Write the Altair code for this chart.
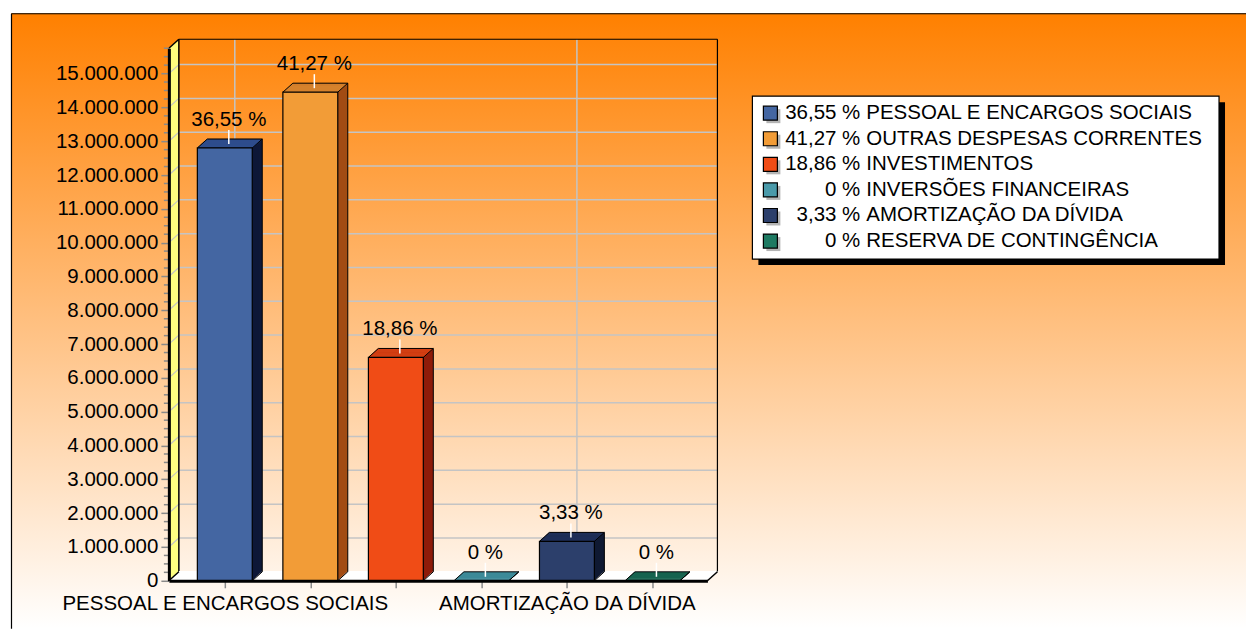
import json
import altair as alt
import pandas as pd

# ---------------- data ----------------
CATEGORIES = [
    "PESSOAL E ENCARGOS SOCIAIS",
    "OUTRAS DESPESAS CORRENTES",
    "INVESTIMENTOS",
    "INVERSÕES FINANCEIRAS",
    "AMORTIZAÇÃO DA DÍVIDA",
    "RESERVA DE CONTINGÊNCIA",
]
VALUES = [12_800_000, 14_450_000, 6_605_000, 0, 1_165_000, 0]
PCT_LABELS = ["36,55 %", "41,27 %", "18,86 %", "0 %", "3,33 %", "0 %"]
FRONT_COLORS = ["#4466A2", "#F29C37", "#F04C16", "#4A9AAA", "#2C3F6B", "#1E7A62"]
TOP_COLORS = ["#2E4D8C", "#D6822C", "#D23E12", "#3C8A99", "#1F2F58", "#17634F"]
SIDE_COLORS = ["#0E1838", "#A24C14", "#8E1C0A", "#1E5560", "#101A33", "#0D4033"]
Y_TICKS = [0, 1_000_000, 2_000_000, 3_000_000, 4_000_000, 5_000_000, 6_000_000,
           7_000_000, 8_000_000, 9_000_000, 10_000_000, 11_000_000, 12_000_000,
           13_000_000, 14_000_000, 15_000_000]
X_LABELED = [0, 4]  # category indices whose names are shown on the x axis

# ---------------- layout / style ----------------
FONT = "Liberation Sans"
FS = 20.5
W, H = 539, 533
Y_MAX = 15_750_000
Y_MINOR_STEP = 250_000
X_DOMAIN = [-0.654, 5.643]
HW = 0.321            # half bar width in category units
DX, DY = 10, -9       # 3D depth offset in pixels
GRID = "#c4c4c4"
TICK = "#8a8a8a"
YELLOW = "#FFFF80"
# background box (plot-relative pixels)
BG_L, BG_T, BG_R, BG_B = -158, -35, 1078, 581
# legend box (plot-relative pixels)
LX0, LX1, LY0, LY1 = 584, 1051, 48, 211
LEG_SYM_X, LEG_PCT_X, LEG_NAME_X = 602, 692, 698
LEG_ROW0, LEG_ROW = 65, 25.6

XS = alt.Scale(domain=X_DOMAIN, nice=False, zero=False)
YS = alt.Scale(domain=[0, Y_MAX], nice=False, zero=False)

x_label_list = [c if i in X_LABELED else "" for i, c in enumerate(CATEGORIES)]
X_AXIS = alt.Axis(
    values=list(range(len(CATEGORIES))),
    labelExpr=json.dumps(x_label_list, ensure_ascii=False) + "[datum.value]",
    labelFont=FONT, labelFontSize=FS, labelColor="black", labelLimit=1000,
    tickColor=TICK, tickSize=7, tickWidth=1.5,
    domainColor="black", domainWidth=3, labelPadding=6,
    labelOverlap=False, labelFlush=False, grid=False, title=None, zindex=1,
)
Y_AXIS = alt.Axis(
    values=Y_TICKS,
    labelExpr="replace(format(datum.value, ',d'), regexp(',', 'g'), '.')",
    labelFont=FONT, labelFontSize=FS, labelColor="black", labelLimit=1000,
    tickColor=TICK, tickSize=8, tickWidth=1.5,
    domainColor="black", domainWidth=3, labelPadding=3,
    grid=False, title=None, zindex=1,
)


def X(f):
    return alt.X(f, type="quantitative", scale=XS, axis=X_AXIS)


def Y(f):
    return alt.Y(f, type="quantitative", scale=YS, axis=Y_AXIS)


bars_df = pd.DataFrame({
    "cat": CATEGORIES, "value": VALUES, "pct": PCT_LABELS,
    "front": FRONT_COLORS, "top": TOP_COLORS, "side": SIDE_COLORS,
    "i": list(range(len(CATEGORIES))),
})
grid_df = pd.DataFrame({"v": Y_TICKS})
one_df = pd.DataFrame({"k": [0]})
leg_df = pd.DataFrame({"name": CATEGORIES, "pct": PCT_LABELS, "color": FRONT_COLORS,
                       "i": list(range(len(CATEGORIES)))})

frame = alt.Chart(one_df).transform_calculate(lo="0", hi=str(Y_MAX))
bars = alt.Chart(bars_df).transform_calculate(
    xl=f"datum.i - {HW}", xr=f"datum.i + {HW}", base="0")

layers = []

# background box with gradient (border only on top and left, the box runs off the page)
layers.append(
    alt.Chart(one_df).mark_rect(
        fill=alt.LinearGradient(
            gradient="linear",
            stops=[alt.GradientStop(color="#FF8000", offset=0),
                   alt.GradientStop(color="#FFFFFF", offset=1)],
            x1=0, x2=0, y1=0, y2=1),
    ).encode(x=alt.value(BG_L), x2=alt.value(BG_R), y=alt.value(BG_T), y2=alt.value(BG_B))
)
layers.append(alt.Chart(one_df).mark_rule(color="black", strokeWidth=1.2)
              .encode(x=alt.value(BG_L + 0.5), x2=alt.value(BG_R), y=alt.value(BG_T + 0.5)))
layers.append(alt.Chart(one_df).mark_rule(color="black", strokeWidth=1.2)
              .encode(x=alt.value(BG_L + 0.5), y=alt.value(BG_T + 0.5), y2=alt.value(BG_B)))

# back wall horizontal grid
layers.append(
    alt.Chart(grid_df).transform_filter("datum.v > 0").mark_rule(
        color=GRID, strokeWidth=1.5, yOffset=DY
    ).encode(x=alt.value(DX), x2=alt.value(W + DX), y=Y("v"))
)
# back wall vertical grid at labelled categories
layers.append(
    alt.Chart(pd.DataFrame({"i": X_LABELED})).transform_calculate(lo="0", hi=str(Y_MAX))
    .mark_rule(color=GRID, strokeWidth=1.5, xOffset=DX, yOffset=DY, y2Offset=DY)
    .encode(x=X("i"), y=Y("lo"), y2=alt.Y2("hi"))
)
# back wall edges
layers.append(frame.mark_rule(color="black", strokeWidth=1.2, yOffset=DY)
              .encode(x=alt.value(DX), x2=alt.value(W + DX), y=Y("hi")))
layers.append(frame.mark_rule(color="black", strokeWidth=1.2, yOffset=DY, y2Offset=DY)
              .encode(x=alt.value(W + DX), y=Y("lo"), y2=alt.Y2("hi")))

# yellow side wall
for k in range(1, DX):
    layers.append(frame.mark_rule(color=YELLOW, strokeWidth=1.6,
                                  yOffset=DY * k / DX, y2Offset=DY * k / DX)
                  .encode(x=alt.value(k), y=Y("lo"), y2=alt.Y2("hi")))
layers.append(alt.Chart(grid_df).transform_filter("datum.v > 0").mark_rule(
    color=GRID, strokeWidth=1.2, y2Offset=DY)
    .encode(x=alt.value(0), x2=alt.value(DX), y=Y("v"), y2=alt.Y2("v")))
layers.append(frame.mark_rule(color="black", strokeWidth=1.5, yOffset=DY, y2Offset=DY)
              .encode(x=alt.value(DX), y=Y("lo"), y2=alt.Y2("hi")))
layers.append(frame.mark_rule(color="black", strokeWidth=1.5, y2Offset=DY)
              .encode(x=alt.value(0), x2=alt.value(DX), y=Y("hi"), y2=alt.Y2("hi")))

# floor
for k in range(1, DX + 1):
    layers.append(frame.mark_rule(color="white", strokeWidth=1.6, yOffset=DY * k / DX)
                  .encode(x=alt.value(k), x2=alt.value(W + k), y=Y("lo")))
layers.append(frame.mark_rule(color="black", strokeWidth=1.5, y2Offset=DY)
              .encode(x=alt.value(0), x2=alt.value(DX), y=Y("lo"), y2=alt.Y2("lo")))
layers.append(frame.mark_rule(color="black", strokeWidth=1.5, y2Offset=DY)
              .encode(x=alt.value(W), x2=alt.value(W + DX), y=Y("lo"), y2=alt.Y2("lo")))

# bar sides (extrusion)
for k in range(DX, 0, -1):
    ox, oy = k, DY * k / DX
    layers.append(bars.mark_rect(xOffset=ox, x2Offset=ox, yOffset=oy, y2Offset=oy)
                  .encode(x=X("xl"), x2=alt.X2("xr"), y=Y("value"), y2=alt.Y2("base"),
                          fill=alt.Fill("side:N", scale=None)))
# bar tops
for k in range(1, DX):
    ox, oy = k, DY * k / DX
    layers.append(bars.mark_rule(strokeWidth=1.5, xOffset=ox, x2Offset=ox, yOffset=oy)
                  .encode(x=X("xl"), x2=alt.X2("xr"), y=Y("value"),
                          stroke=alt.Stroke("top:N", scale=None)))
# bar 3D edges
EDGE = dict(color="black", strokeWidth=1)
layers.append(bars.mark_rule(xOffset=DX, x2Offset=DX, yOffset=DY, **EDGE)
              .encode(x=X("xl"), x2=alt.X2("xr"), y=Y("value")))
layers.append(bars.mark_rule(xOffset=DX, yOffset=DY, y2Offset=DY, **EDGE)
              .encode(x=X("xr"), y=Y("value"), y2=alt.Y2("base")))
for xf, yf in (("xl", "value"), ("xr", "value"), ("xr", "base")):
    layers.append(bars.mark_rule(x2Offset=DX, y2Offset=DY, **EDGE)
                  .encode(x=X(xf), x2=alt.X2(xf), y=Y(yf), y2=alt.Y2(yf)))

# bar fronts
layers.append(
    bars.mark_rect(stroke="black", strokeWidth=1.2).encode(
        x=X("xl"), x2=alt.X2("xr"), y=Y("value"), y2=alt.Y2("base"),
        fill=alt.Fill("front:N", scale=None),
    )
)

# value labels
layers.append(bars.mark_rule(color="white", strokeWidth=1.5, xOffset=4, yOffset=-4, y2Offset=-18)
              .encode(x=X("i"), y=Y("value"), y2=alt.Y2("value")))
layers.append(bars.mark_text(font=FONT, fontSize=FS, color="black", align="center",
                             baseline="alphabetic", dx=4, dy=-22)
              .encode(x=X("i"), y=Y("value"), text="pct:N"))

# minor y ticks
layers.append(
    alt.Chart(alt.sequence(0, Y_MAX + 1, Y_MINOR_STEP, as_="v"))
    .transform_filter("datum.v % 1000000 != 0")
    .mark_rule(color=TICK, strokeWidth=1.5)
    .encode(x=alt.value(-5), x2=alt.value(0), y=Y("v"))
)

# legend
layers.append(alt.Chart(one_df).mark_rect(fill="black")
              .encode(x=alt.value(LX0 + 6), x2=alt.value(LX1 + 6),
                      y=alt.value(LY0 + 6), y2=alt.value(LY1 + 6)))
layers.append(alt.Chart(one_df).mark_rect(fill="white", stroke="black", strokeWidth=1.2)
              .encode(x=alt.value(LX0), x2=alt.value(LX1),
                      y=alt.value(LY0), y2=alt.value(LY1)))
leg = alt.Chart(leg_df).transform_calculate(ly=f"{LEG_ROW0} + datum.i * {LEG_ROW}")
LY = alt.Y("ly:Q", scale=None, axis=None)
layers.append(leg.mark_square(size=196, color="#b4b4b4", opacity=1, xOffset=3, yOffset=3)
              .encode(x=alt.value(LEG_SYM_X), y=LY))
layers.append(leg.mark_square(size=196, opacity=1, stroke="black", strokeWidth=1.2)
              .encode(x=alt.value(LEG_SYM_X), y=LY, fill=alt.Fill("color:N", scale=None)))
layers.append(leg.mark_text(font=FONT, fontSize=FS, color="black", align="right", baseline="middle")
              .encode(x=alt.value(LEG_PCT_X), y=LY, text="pct:N"))
layers.append(leg.mark_text(font=FONT, fontSize=FS, color="black", align="left", baseline="middle")
              .encode(x=alt.value(LEG_NAME_X), y=LY, text="name:N"))

chart = (
    alt.layer(*layers)
    .properties(width=W, height=H, padding={"left": 2, "top": 4, "right": 0, "bottom": 0})
    .configure_view(stroke=None)
)

chart.save("out.html", embed_options={"renderer": "svg", "actions": False})
